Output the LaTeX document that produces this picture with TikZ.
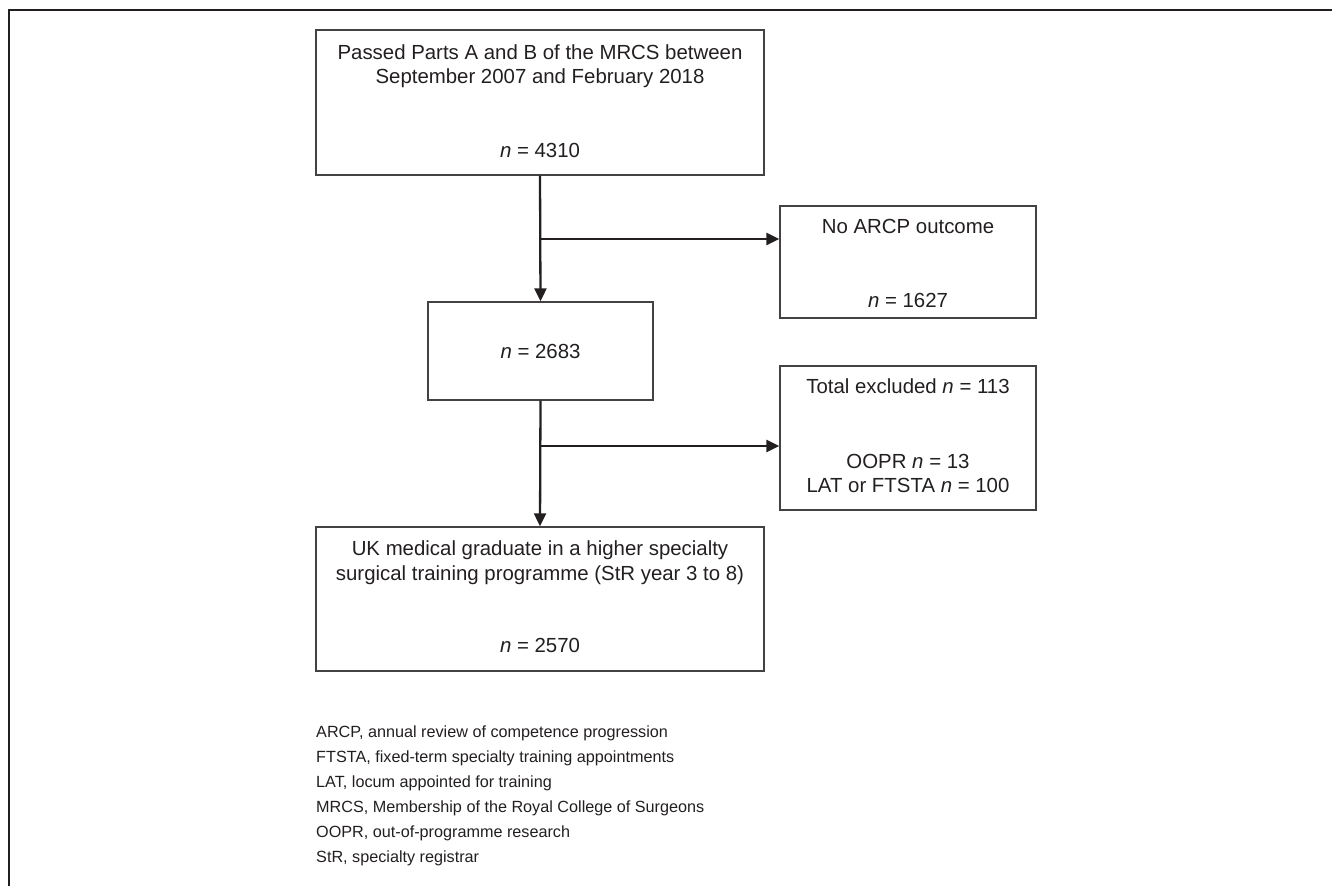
\documentclass[tikz,border=0pt]{standalone}
\usepackage{fontspec}
\setmainfont{Liberation Sans}
\usetikzlibrary{arrows.meta}
\definecolor{ink}{HTML}{231F20}
\tikzset{
  box/.style={draw=ink!85, line width=1.3pt, rectangle, inner sep=0pt},
  boxtext/.style={anchor=base, inner sep=0pt, text=ink, font=\fontsize{20.4}{24}\selectfont},
  legtext/.style={anchor=base west, inner sep=0pt, text=ink, font=\fontsize{16.2}{20}\selectfont},
  flow/.style={draw=ink, line width=2.3pt, -{Triangle[length=13pt,width=12pt]}},
  frame/.style={draw=ink, line width=2.3pt}
}
\begin{document}
\begin{tikzpicture}[x=1pt,y=-1pt]
\useasboundingbox (0,0) rectangle (1332,886);
\draw[frame] (1332,10) -- (9,10) -- (9,886);
% boxes
\node[box, minimum width=448pt, minimum height=145pt] (b1) at (540,102.5) {};
\node[box, minimum width=256pt, minimum height=112pt] (arcp) at (908,262) {};
\node[box, minimum width=225pt, minimum height=98pt] (b2) at (540.5,351) {};
\node[box, minimum width=256pt, minimum height=144pt] (excl) at (908,438) {};
\node[box, minimum width=448pt, minimum height=144pt] (uk) at (540,599) {};
% texts
\node[boxtext] (t1a) at (540,59) {Passed Parts A and B of the MRCS between};
\node[boxtext] (t1b) at (540,83) {September 2007 and February 2018};
\node[boxtext] (t1c) at (540,157) {\textit{n} = 4310};
\node[boxtext] (t2a) at (908,233) {No ARCP outcome};
\node[boxtext] (t2b) at (908,307) {\textit{n} = 1627};
\node[boxtext] (t3a) at (540.5,358) {\textit{n} = 2683};
\node[boxtext] (t4a) at (908,393) {Total excluded \textit{n} = 113};
\node[boxtext] (t4b) at (908,468) {OOPR \textit{n} = 13};
\node[boxtext] (t4c) at (908,492) {LAT or FTSTA \textit{n} = 100};
\node[boxtext] (t5a) at (540,555) {UK medical graduate in a higher specialty};
\node[boxtext] (t5b) at (540,580) {surgical training programme (StR year 3 to 8)};
\node[boxtext] (t5c) at (540,652) {\textit{n} = 2570};
% connectors
\coordinate (j1) at (540,239);
\coordinate (j2) at (540,446);
\draw[flow] (b1.south) -- (b2.north);
\draw[flow] (j1) -- (j1 -| arcp.west);
\draw[flow] (b2.south) -- (uk.north);
\draw[flow] (j2) -- (j2 -| excl.west);
% legend
\node[legtext] (l1) at (316,737) {ARCP, annual review of competence progression};
\node[legtext] (l2) at (316,762) {FTSTA, fixed-term specialty training appointments};
\node[legtext] (l3) at (316,787) {LAT, locum appointed for training};
\node[legtext] (l4) at (316,812) {MRCS, Membership of the Royal College of Surgeons};
\node[legtext] (l5) at (316,837) {OOPR, out-of-programme research};
\node[legtext] (l6) at (316,862) {StR, specialty registrar};
\end{tikzpicture}
\end{document}
